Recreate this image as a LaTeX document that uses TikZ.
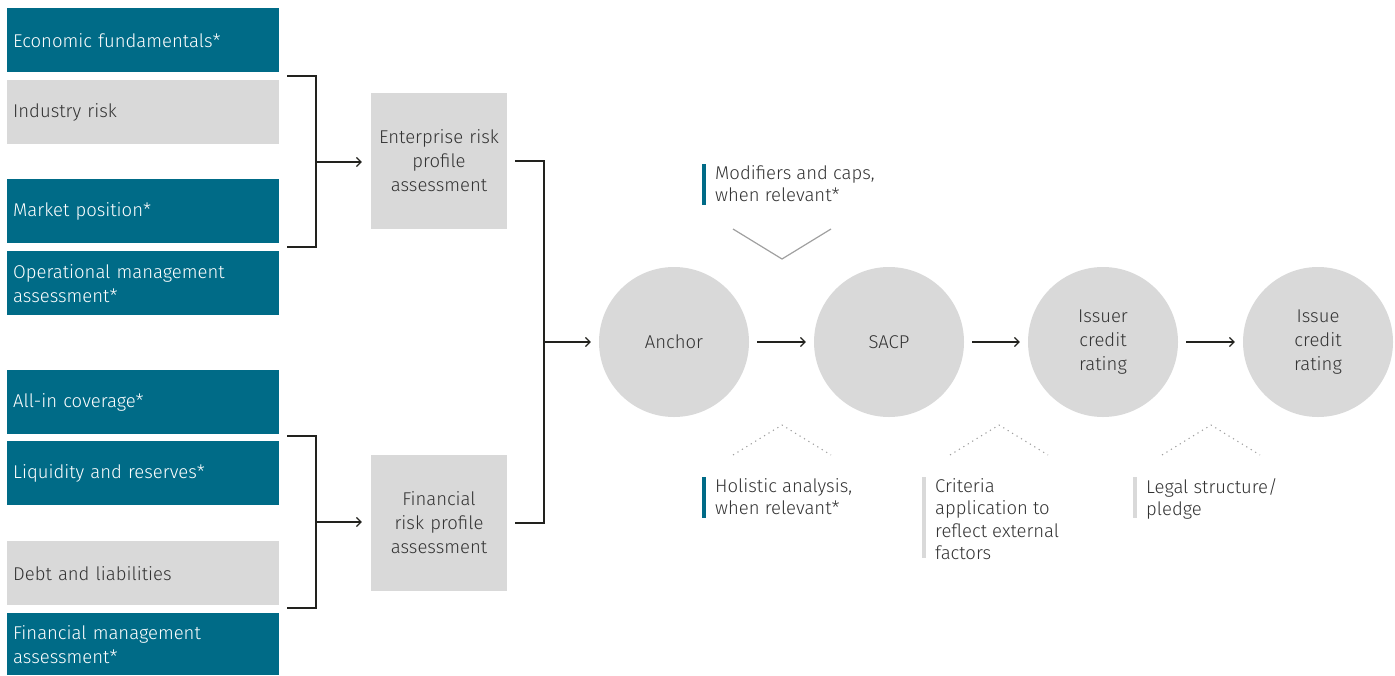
\documentclass[tikz,border=0pt]{standalone}
\usepackage{fontspec}
\setmainfont{Fira Sans Light}
\usetikzlibrary{arrows.meta}
\definecolor{tealc}{RGB}{0,107,135}
\definecolor{boxgray}{RGB}{217,217,217}
\definecolor{txt}{RGB}{51,51,51}
\definecolor{vgray}{RGB}{160,160,160}
\definecolor{linec}{RGB}{34,34,30}
\tikzset{
  lbl/.style={font=\fontsize{18.5}{24}\selectfont},
  tealbox/.style={lbl, fill=tealc, text=white, minimum width=272, minimum height=64, text width=260, inner xsep=6, inner ysep=0, align=left, anchor=north west},
  graybox/.style={tealbox, fill=boxgray, text=txt},
  midbox/.style={lbl, fill=boxgray, text=txt, minimum width=136, minimum height=136, text width=134, inner sep=0, align=center},
  disc/.style={lbl, circle, fill=boxgray, text=txt, minimum size=150, inner sep=0, align=center},
  conn/.style={draw=linec, line width=1.2pt},
  arr/.style={conn, -{Straight Barb[length=4.5pt,width=9pt,line width=1.2pt]}},
  note/.style={font=\fontsize{18.5}{22.5}\selectfont, text=txt, anchor=north west, inner sep=0, align=left},
  vsolid/.style={draw=vgray, line width=1.2pt},
  vdot/.style={draw=vgray, line width=1.1pt, dash pattern=on 1.2pt off 4pt},
}
\begin{document}
\begin{tikzpicture}[x=1pt,y=-1pt]
\useasboundingbox (0,0) rectangle (1395,675);
% left boxes
\node[tealbox] (ef) at (7,8) {Economic fundamentals*};
\node[graybox] (ir) at (7,80) {Industry risk};
\node[tealbox] (mp) at (7,179) {Market position*};
\node[tealbox] (om) at (7,251) {Operational management\\assessment*};
\node[tealbox] (ac) at (7,370) {All-in coverage*};
\node[tealbox] (lr) at (7,441) {Liquidity and reserves*};
\node[graybox] (dl) at (7,541) {Debt and liabilities};
\node[tealbox, minimum height=62] (fm) at (7,613) {Financial management\\assessment*};
% middle boxes
\node[midbox] (ent) at (439,161) {Enterprise risk\\profile\\assessment};
\node[midbox] (fin) at (439,523) {Financial\\risk profile\\assessment};
% circles
\node[disc] (anc) at (674,342) {Anchor};
\node[disc] (sacp) at (889,342) {SACP};
\node[disc] (isr) at (1103,342) {Issuer\\credit\\rating};
\node[disc] (ise) at (1318,342) {Issue\\credit\\rating};
% brackets
\coordinate (t1) at (287,76);
\coordinate (t2) at (287,247);
\coordinate (tm) at (316,162);
\coordinate (u1) at (287,436);
\coordinate (u2) at (287,608);
\coordinate (um) at (316,522);
\coordinate (rm) at (544,342);
\draw[conn] (t1) -| (tm) |- (t2);
\draw[conn] (u1) -| (um) |- (u2);
\draw[arr, shorten >=9pt] (tm) -- (tm -| ent.west);
\draw[arr, shorten >=9pt] (um) -- (um -| fin.west);
\draw[conn] ([xshift=8pt]ent.east) -| (rm) |- ([xshift=8pt]fin.east);
\draw[arr, shorten >=8pt] (rm) -- (anc.west);
\draw[arr, shorten <=8pt, shorten >=8pt] (anc.east) -- (sacp.west);
\draw[arr, shorten <=8pt, shorten >=8pt] (sacp.east) -- (isr.west);
\draw[arr, shorten <=8pt, shorten >=8pt] (isr.east) -- (ise.west);
% V marks
\draw[vsolid] (733,229) -- (782,259) -- (831,229);
\draw[vdot] (733,455) -- (782,425) -- (831,455);
\draw[vdot] (950,455) -- (999,425) -- (1048,455);
\draw[vdot] (1162,455) -- (1211,425) -- (1260,455);
% notes
\fill[tealc] (702,164) rectangle (706,205);
\node[note] (mod) at (715,165) {Modifiers and caps,\\when relevant*};
\fill[tealc] (702,477) rectangle (706,518);
\node[note] (hol) at (715,478) {Holistic analysis,\\when relevant*};
\fill[boxgray] (922,477) rectangle (926,558);
\node[note] (cri) at (935,478) {Criteria\\application to\\reflect external\\factors};
\fill[boxgray] (1133,477) rectangle (1137,518);
\node[note] (leg) at (1146,478) {Legal structure/\\pledge};
\end{tikzpicture}
\end{document}
